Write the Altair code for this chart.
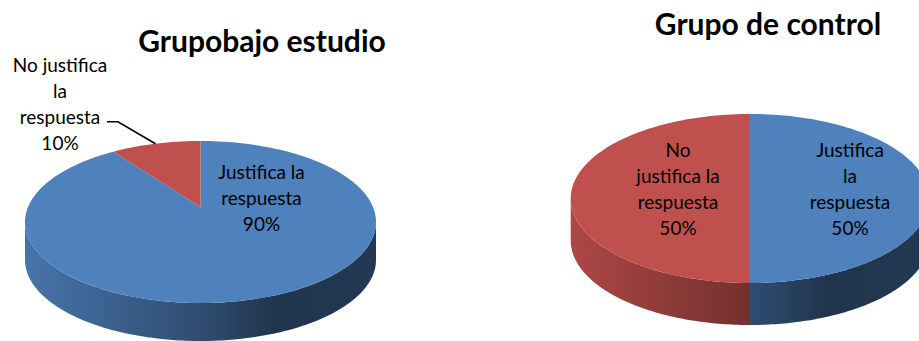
import altair as alt
import numpy as np
import pandas as pd

# ---------------- data ----------------
categories = ["Justifica la respuesta", "No justifica la respuesta"]
group_titles = ["Grupobajo estudio", "Grupo de control"]
study_pct = [90, 10]
control_pct = [50, 50]
study_labels = [["Justifica la", "respuesta", "90%"],
                ["No justifica", "la", "respuesta", "10%"]]
control_labels = [["Justifica", "la", "respuesta", "50%"],
                  ["No", "justifica la", "respuesta", "50%"]]

# ---------------- layout / style (not data) ----------------
W, H = 919, 341
BLUE, RED = "#4F81BD", "#C0504D"
BASE = {categories[0]: (79, 129, 189), categories[1]: (192, 80, 77)}
PIES = [
    dict(cx=200.5, cy=222.0, rx=175.5, ry=81.0, depth=38.0, apex=0.185),
    dict(cx=750.0, cy=198.5, rx=179.3, ry=84.5, depth=42.0, apex=0.185),
]
TITLE_POS = [(262, 52), (768, 35)]
LABEL_POS = [[(261.5, 179), (60, 72)], [(850, 157), (678, 157)]]
LEADER_START = [(107, 121.7), (118, 121.7)]
SHADE = [(0.0, 0.90), (0.5, 0.60), (0.72, 0.40), (1.0, 0.44)]
FONT = "Lato"

xs = alt.Scale(domain=[0, W], nice=False, zero=False)
ys = alt.Scale(domain=[0, H], reverse=True, nice=False, zero=False)
cscale = alt.Scale(domain=categories, range=[BLUE, RED])


def circle_phi(theta, a):
    """circle angle (deg, clockwise from top) hit by a ray from apex (0,a) at angle theta"""
    t = np.radians(theta)
    d = np.array([np.sin(t), np.cos(t)])
    ad = a * d[1]
    s = -ad + np.sqrt(ad * ad - a * a + 1)
    p = np.array([0.0, a]) + s * d
    phi = np.degrees(np.arctan2(p[0], p[1]))
    phi += 360 * round((theta - phi) / 360)
    return phi


def shade_at(t):
    ts = [s[0] for s in SHADE]
    fs = [s[1] for s in SHADE]
    return float(np.interp(t, ts, fs))


def rgb_hex(rgb, f):
    return "#%02x%02x%02x" % tuple(int(max(0, min(255, round(c * f)))) for c in rgb)


top_rows, side_layers, leader_rows = [], [], []
for pi, (pct, pie) in enumerate(zip([study_pct, control_pct], PIES)):
    cx, cy, rx, ry, dep, a = pie["cx"], pie["cy"], pie["rx"], pie["ry"], pie["depth"], pie["apex"]
    cum = np.cumsum([0] + pct) / sum(pct) * 360.0
    for si, cat in enumerate(categories):
        th0, th1 = cum[si], cum[si + 1]
        ph0, ph1 = circle_phi(th0, a), circle_phi(th1, a)
        key = f"p{pi}s{si}"
        # top face polygon: apex + arc
        top_rows.append(dict(key=key, cat=cat, k=0, x=cx, y=cy - a * ry))
        n = max(2, int(abs(ph1 - ph0) / 1.5) + 1)
        for j, ph in enumerate(np.linspace(ph0, ph1, n)):
            r = np.radians(ph)
            top_rows.append(dict(key=key, cat=cat, k=j + 1,
                                 x=cx + rx * np.sin(r), y=cy - ry * np.cos(r)))
        # leader end for the small slice of the first pie
        if pi == 0 and si == 1:
            mid = np.radians((ph0 + ph1) / 2)
            leader_rows = [dict(k=0, x=LEADER_START[0][0], y=LEADER_START[0][1]),
                           dict(k=1, x=LEADER_START[1][0], y=LEADER_START[1][1]),
                           dict(k=2, x=cx + rx * np.sin(mid), y=cy - ry * np.cos(mid))]
        # visible side wall: circle angles 90..270
        s0, s1 = max(ph0, 90.0), min(ph1, 270.0)
        if s1 > s0:
            m = max(2, int((s1 - s0) / 1.0) + 1)
            rows = []
            for ph in np.linspace(s0, s1, m):
                r = np.radians(ph)
                yt = cy - ry * np.cos(r)
                rows.append(dict(x=cx + rx * np.sin(r), yt=yt, yb=yt + dep))
            sdf = pd.DataFrame(rows)
            xa, xb = sdf.x.min(), sdf.x.max()
            ta, tb = (xa - (cx - rx)) / (2 * rx), (xb - (cx - rx)) / (2 * rx)
            tpts = sorted(set([ta, tb] + [s[0] for s in SHADE if ta < s[0] < tb]))
            stops = [dict(offset=float((t - ta) / (tb - ta)), color=rgb_hex(BASE[cat], shade_at(t)))
                     for t in tpts]
            grad = dict(gradient="linear", x1=0, y1=0, x2=1, y2=0, stops=stops)
            side_layers.append(
                alt.Chart(sdf).mark_area(color=grad, clip=True, interpolate="linear").encode(
                    x=alt.X("x:Q", scale=xs, axis=None),
                    y=alt.Y("yt:Q", scale=ys, axis=None),
                    y2="yb:Q",
                )
            )

top_df = pd.DataFrame(top_rows)
tops = alt.Chart(top_df).mark_line(filled=True, interpolate="linear-closed", clip=True).encode(
    x=alt.X("x:Q", scale=xs, axis=None),
    y=alt.Y("y:Q", scale=ys, axis=None),
    color=alt.Color("cat:N", scale=cscale, legend=None),
    detail="key:N",
    order="k:Q",
)

lab_rows = []
for pi, labs in enumerate([study_labels, control_labels]):
    for si, lines in enumerate(labs):
        x, y = LABEL_POS[pi][si]
        lab_rows.append(dict(x=x, y=y, text="\n".join(lines)))
labels = alt.Chart(pd.DataFrame(lab_rows)).mark_text(
    align="center", baseline="alphabetic", font=FONT, fontSize=19, lineHeight=26,
    lineBreak="\n", color="#000000"
).encode(x=alt.X("x:Q", scale=xs, axis=None), y=alt.Y("y:Q", scale=ys, axis=None), text="text:N")

title_df = pd.DataFrame([dict(x=p[0], y=p[1], text=t) for p, t in zip(TITLE_POS, group_titles)])
titles = alt.Chart(title_df).mark_text(
    align="center", baseline="alphabetic", font=FONT, fontSize=30, fontWeight="bold", color="#000000"
).encode(x=alt.X("x:Q", scale=xs, axis=None), y=alt.Y("y:Q", scale=ys, axis=None), text="text:N")

leader = alt.Chart(pd.DataFrame(leader_rows)).mark_line(color="#000000", strokeWidth=1.6).encode(
    x=alt.X("x:Q", scale=xs, axis=None), y=alt.Y("y:Q", scale=ys, axis=None), order="k:Q"
)

chart = alt.layer(*side_layers, tops, leader, labels, titles).properties(
    width=W, height=H, padding=0, autosize=alt.AutoSizeParams(type="none"), background="white"
).configure_view(stroke=None)

chart.save("out.html", embed_options={"renderer": "svg", "actions": False})
